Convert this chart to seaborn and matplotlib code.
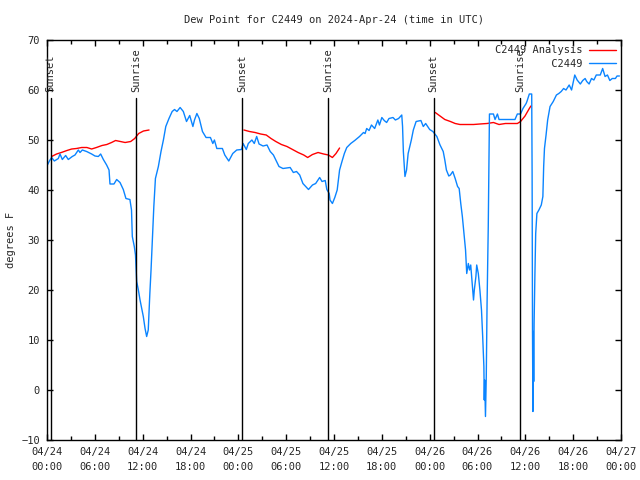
import pandas as pd
import matplotlib
matplotlib.use("Agg")
import matplotlib.pyplot as plt
import matplotlib.dates as mdates
from matplotlib.lines import Line2D
import seaborn as sns

# hours after 2024-04-24 00:00 UTC
obs_hours = [0.05, 0.3, 0.58, 0.92, 1.42, 1.63, 1.92, 2.34, 2.67, 3.17, 3.51, 3.93, 4.14, 4.43, 4.97,
             5.6, 6.02, 6.44, 6.73, 7.07, 7.48, 7.78, 7.9, 8.4, 8.74, 9.16, 9.57, 9.9, 10.4, 10.6,
             10.7, 10.95, 11.1, 11.25, 11.46, 11.67, 11.88, 12.08, 12.3, 12.5, 12.7, 12.9, 13.05, 13.2,
             13.4, 13.6, 13.97, 14.3, 14.6, 14.9, 15.3, 15.7, 16.0, 16.3, 16.7, 17.1, 17.5, 17.9,
             18.3, 18.5, 18.8, 19.1, 19.5, 19.95, 20.5, 20.8, 21.0, 21.3, 22.0, 22.3, 22.8, 23.3,
             23.8, 24.4, 24.6, 25.0, 25.25, 25.7, 26.0, 26.3, 26.6, 27.1, 27.6, 28.0, 28.4, 28.7,
             29.1, 29.6, 30.5, 30.9, 31.3, 31.7, 32.1, 32.8, 33.3, 33.7, 34.2, 34.5, 34.9, 35.1,
             35.4, 35.5, 35.8, 36.1, 36.4, 36.7, 37.0, 37.3, 37.6, 38.1, 38.6, 39.2, 39.7, 39.9,
             40.1, 40.4, 40.7, 41.1, 41.5, 41.7, 42.0, 42.3, 42.6, 42.9, 43.4, 43.7, 44.1, 44.5,
             44.6, 44.7, 44.9, 45.1, 45.3, 45.7, 45.95, 46.3, 46.9, 47.2, 47.5, 48.0, 48.4, 48.9,
             49.3, 49.7, 49.9, 50.1, 50.4, 50.6, 50.9, 51.2, 51.5, 51.7, 51.9, 52.1, 52.3, 52.5,
             52.6, 52.65, 52.85, 53.0, 53.15, 53.3, 53.5, 53.6, 53.8, 53.9, 54.1, 54.3, 54.5, 54.65,
             54.8, 54.85, 54.9, 55.0, 55.1, 55.2, 55.35, 55.45, 55.5, 56.0, 56.2, 56.5, 56.7, 58.7,
             59.0, 59.4, 59.7, 60.1, 60.2, 60.5, 60.8, 60.85, 60.9, 60.95, 61.0, 61.05, 61.1, 61.2,
             61.3, 61.45, 61.7, 62.0, 62.2, 62.3, 62.4, 62.6, 62.8, 63.1, 63.5, 63.9, 64.2, 64.5,
             64.8, 65.1, 65.5, 65.8, 66.2, 66.5, 66.9, 67.2, 67.5, 67.7, 68.0, 68.3, 68.6, 68.9,
             69.4, 69.7, 70.0, 70.3, 70.6, 70.9, 71.3, 71.5, 71.8]
obs_dew = [45.0, 45.8, 46.5, 45.8, 46.3, 47.2, 46.1, 46.9, 46.1, 46.7, 47.0, 48.0, 47.5, 48.0, 47.7,
           47.2, 46.8, 46.7, 47.2, 46.1, 45.0, 44.0, 41.2, 41.2, 42.1, 41.5, 40.1, 38.3, 38.1, 36.0,
           30.7, 28.7, 27.0, 21.7, 20.0, 18.0, 16.3, 14.7, 12.3, 10.7, 12.0, 19.3, 24.0, 29.3,
           36.7, 42.3, 44.7, 47.7, 50.0, 52.7, 54.3, 55.7, 56.1, 55.7, 56.5, 55.7, 53.7, 54.9,
           52.7, 54.0, 55.3, 54.3, 51.7, 50.5, 50.5, 49.3, 50.0, 48.3, 48.3, 47.0, 45.8, 47.3,
           48.0, 48.1, 49.3, 48.1, 49.3, 50.0, 49.3, 50.7, 49.2, 48.8, 49.0, 47.7, 47.0, 46.0,
           44.7, 44.3, 44.5, 43.5, 43.7, 43.0, 41.3, 40.1, 41.0, 41.3, 42.5, 41.7, 41.9, 40.1,
           39.3, 38.0, 37.3, 38.5, 40.0, 44.0, 45.7, 47.3, 48.5, 49.3, 49.9, 50.7, 51.5, 51.3,
           52.3, 51.9, 53.0, 52.3, 54.0, 53.0, 54.5, 53.9, 53.5, 54.3, 54.5, 54.0, 54.3, 55.0,
           52.7, 47.7, 42.7, 44.0, 47.3, 50.0, 52.0, 53.7, 53.9, 52.7, 53.3, 52.1, 51.7, 50.7,
           49.0, 47.7, 46.0, 44.0, 42.8, 43.0, 43.7, 42.3, 40.7, 40.3, 37.3, 34.7, 31.3, 28.0,
           24.7, 23.3, 25.3, 24.0, 25.0, 22.0, 18.0, 20.0, 22.7, 25.0, 23.3, 20.0, 16.0, 10.7,
           4.7, -2.0, 2.0, -5.3, 2.7, 17.3, 32.7, 47.7, 55.2, 55.2, 54.1, 55.2, 54.1, 54.1,
           55.2, 55.2, 56.3, 57.3, 57.7, 59.2, 59.2, 43.3, 11.7, -4.3, 11.7, 1.7, 13.3, 23.0,
           31.3, 35.3, 36.0, 37.0, 38.7, 44.7, 48.3, 51.0, 54.0, 56.7, 57.7, 59.0, 59.3, 59.7,
           60.3, 60.0, 61.0, 60.0, 63.0, 62.0, 61.2, 61.9, 62.3, 61.7, 61.2, 62.3, 62.0, 63.0,
           63.0, 64.3, 62.7, 63.0, 61.9, 62.3, 62.3, 62.8, 62.8]

ana1_hours = [0.58, 1.2, 1.8, 2.5, 3.1, 3.7, 4.35, 5.0, 5.6, 6.2, 6.9, 7.5, 8.1, 8.6, 9.2, 9.8,
              10.5, 11.0, 11.5, 12.1, 12.8]
ana1_dew = [46.7, 47.2, 47.5, 47.9, 48.2, 48.3, 48.5, 48.5, 48.2, 48.5, 48.9, 49.1, 49.5, 49.9,
            49.7, 49.5, 49.7, 50.3, 51.3, 51.8, 52.0]
ana2_hours = [24.7, 25.4, 26.1, 26.8, 27.5, 28.1, 28.7, 29.4, 30.1, 30.8, 31.5, 32.2, 32.7, 33.3,
              34.0, 34.7, 35.3, 35.8, 36.25, 36.7]
ana2_dew = [52.0, 51.7, 51.5, 51.2, 51.0, 50.3, 49.7, 49.1, 48.7, 48.1, 47.5, 47.0, 46.5, 47.1,
            47.5, 47.2, 47.0, 46.5, 47.3, 48.4]
ana3_hours = [48.7, 49.3, 49.9, 50.6, 51.2, 51.8, 52.6, 53.5, 54.3, 55.2, 56.0, 56.7, 57.5, 58.3,
              59.0, 59.4, 59.96, 60.5, 60.7]
ana3_dew = [55.5, 54.8, 54.1, 53.7, 53.3, 53.1, 53.1, 53.1, 53.2, 53.3, 53.5, 53.1, 53.3, 53.3,
            53.3, 53.7, 54.8, 56.3, 56.8]

sun_hours = [0.46, 11.2, 24.5, 35.3, 48.5, 59.3]
sun_labels = ["Sunset", "Sunrise", "Sunset", "Sunrise", "Sunset", "Sunrise"]

red = "#ff0000"
blue = "#0a84ff"
start = pd.Timestamp("2024-04-24 00:00")

def to_time(hours):
    return start + pd.to_timedelta(hours, unit="h")

obs = pd.DataFrame({"time": to_time(obs_hours), "dew": obs_dew})
ana = pd.concat([
    pd.DataFrame({"time": to_time(h), "dew": d, "seg": i})
    for i, (h, d) in enumerate([(ana1_hours, ana1_dew), (ana2_hours, ana2_dew), (ana3_hours, ana3_dew)])
], ignore_index=True)

sns.set_style("ticks")
plt.rcParams["font.family"] = ["DejaVu Sans Mono"]
plt.rcParams["font.size"] = 7.5

fig = plt.figure(figsize=(6.4, 4.8), dpi=100)
ax = fig.add_axes([47 / 640, 40 / 480, 574 / 640, 400 / 480])

sns.lineplot(data=ana, x="time", y="dew", units="seg", estimator=None, color=red,
             lw=1, ax=ax, legend=False)
sns.lineplot(data=obs, x="time", y="dew", color=blue, lw=1, ax=ax, legend=False)

for h, lab in zip(sun_hours, sun_labels):
    t = to_time(h)
    ax.axvline(t, ymin=0, ymax=0.855, color="black", lw=1)
    ax.text(t, 59.6, lab, rotation=90, ha="center", va="bottom", fontsize=7.5)

ax.set_xlim(start, start + pd.Timedelta(hours=72))
ax.set_ylim(-10, 70)
ax.set_yticks(range(-10, 71, 10))
ax.xaxis.set_major_locator(mdates.HourLocator(byhour=[0, 6, 12, 18]))
ax.xaxis.set_minor_locator(mdates.HourLocator(byhour=[3, 9, 15, 21]))
ax.xaxis.set_major_formatter(mdates.DateFormatter("%m/%d\n%H:%M"))
ax.tick_params(axis="both", which="both", direction="in", top=True, right=True,
               color="black", width=1)
ax.tick_params(axis="both", which="major", length=4, pad=5)
ax.tick_params(axis="x", which="minor", length=3)
for lbl in ax.get_xticklabels():
    lbl.set_linespacing(1.6)
for s in ax.spines.values():
    s.set_color("black")
    s.set_linewidth(1)

ax.set_xlabel("")
ax.set_ylabel("degrees F", labelpad=4)
ax.set_title("Dew Point for C2449 on 2024-Apr-24 (time in UTC)", pad=12, fontsize=7.5)

handles = [Line2D([], [], color=red, lw=1), Line2D([], [], color=blue, lw=1)]
ax.legend(handles, ["C2449 Analysis", "         C2449"], loc="upper right", frameon=False,
          markerfirst=False, handlelength=2.6, handletextpad=0.6, borderaxespad=0.1,
          labelspacing=0.35, fontsize=7.5)

fig.savefig("out.png", dpi=100)
